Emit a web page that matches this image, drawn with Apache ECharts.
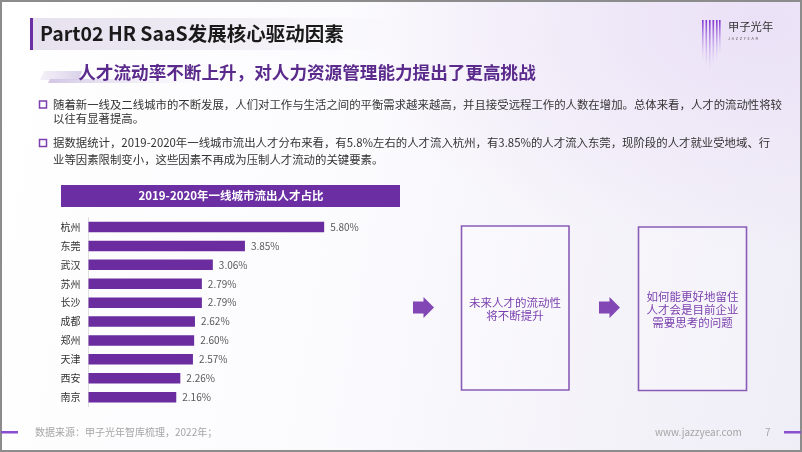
<!DOCTYPE html>
<html>
<head>
<meta charset="utf-8">
<script src="https://cdn.jsdelivr.net/npm/echarts@6/dist/echarts.min.js"></script>
<style>
html,body{margin:0;padding:0;}
#c{width:802px;height:452px;background:radial-gradient(ellipse at 95% 5%, #ebe1f7 0%, rgba(236,227,247,0) 38%), linear-gradient(100deg,#ffffff 0%,#fbfafd 45%,#efedf6 100%);}
</style>
</head>
<body>
<div id="c"></div>
<script>
const categories = ['杭州','东莞','武汉','苏州','长沙','成都','郑州','天津','西安','南京'];
const values = [5.80,3.85,3.06,2.79,2.79,2.62,2.60,2.57,2.26,2.16];
const titleText = 'Part02 HR SaaS发展核心驱动因素';
const subtitleText = '人才流动率不断上升，对人力资源管理能力提出了更高挑战';
const bullet1 = ['随着新一线及二线城市的不断发展，人们对工作与生活之间的平衡需求越来越高，并且接受远程工作的人数在增加。总体来看，人才的流动性将较','以往有显著提高。'];
const bullet2 = ['据数据统计，2019-2020年一线城市流出人才分布来看，有5.8%左右的人才流入杭州，有3.85%的人才流入东莞，现阶段的人才就业受地域、行','业等因素限制变小，这些因素不再成为压制人才流动的关键要素。'];
const chartTitle = '2019-2020年一线城市流出人才占比';
const box1Text = '未来人才的流动性\n将不断提升';
const box2Text = '如何能更好地留住\n人才会是目前企业\n需要思考的问题';
const sourceText = '数据来源：甲子光年智库梳理，2022年；';
const siteText = 'www.jazzyear.com';
const pageNo = '7';

const F = '"Noto Sans CJK SC","Noto Sans",sans-serif';
const PURPLE = '#6a2c9e';
const chart = echarts.init(document.getElementById('c'), null, {renderer:'canvas'});

function txt(text, x, y, size, color, opts) {
  opts = opts || {};
  return {type:'text', z: 10, style:{text:text, x:x, y:y, font:(opts.bold?'bold ':'')+size+'px '+(opts.family||F), fill:color,
    textAlign:opts.align||'left', textVerticalAlign:'middle', lineHeight:opts.lh}};
}
function arrow(x) {
  return {type:'polygon', shape:{points:[[x,301.5],[x+10.5,301.5],[x+10.5,297],[x+21,307.5],[x+10.5,318],[x+10.5,313.5],[x,313.5]]}, style:{fill:'#8247b4'}};
}
const logoLines = [[702,20,40],[705.5,20,46],[709,20,50],[712.5,20,45],[716,20,40],[719,20,34]];
const graphics = [
  {type:'rect', shape:{x:1,y:1,width:800,height:450}, style:{fill:'none', stroke:'#8c8c8c', lineWidth:2}},
  {type:'rect', shape:{x:30,y:18,width:360,height:32}, style:{fill:{type:'linear',x:0,y:0,x2:1,y2:0,colorStops:[{offset:0,color:'#e6e1ee'},{offset:0.6,color:'#f1eef5'},{offset:1,color:'rgba(245,243,248,0)'}]}}},
  {type:'rect', shape:{x:30,y:18,width:3,height:32}, style:{fill:'#6b2fa3'}},
  txt(titleText, 40, 34, 19.5, '#1a1a1a', {bold:true}),
  {type:'polygon', shape:{points:[[44,71],[82,71],[79,80],[40,80]]}, style:{fill:{type:'linear',x:0,y:0,x2:1,y2:0,colorStops:[{offset:0,color:'rgba(220,212,235,0.3)'},{offset:1,color:'#d9d0e8'}]}}},
  {type:'polygon', shape:{points:[[50,79],[200,79],[199,83],[48,83]]}, style:{fill:{type:'linear',x:0,y:0,x2:1,y2:0,colorStops:[{offset:0,color:'#d2c6e4'},{offset:1,color:'rgba(230,225,240,0)'}]}}},
  txt(subtitleText, 307, 72, 17.6, '#5a2a8c', {bold:true, align:'center'}),
  {type:'rect', shape:{x:39.5,y:101,width:7,height:7}, style:{fill:'none', stroke:'#7b3fae', lineWidth:1.5}},
  txt(bullet1[0], 53, 104.5, 11.4, '#333333'),
  txt(bullet1[1], 53, 118.5, 11.4, '#333333'),
  {type:'rect', shape:{x:39.5,y:139.5,width:7,height:7}, style:{fill:'none', stroke:'#7b3fae', lineWidth:1.5}},
  txt(bullet2[0], 53, 143, 11.4, '#333333'),
  txt(bullet2[1], 53, 160, 11.4, '#333333'),
  {type:'rect', shape:{x:61,y:185,width:339,height:22}, style:{fill:'#6b2fa3'}},
  txt(chartTitle, 231, 196, 11.5, '#ffffff', {bold:true, align:'center'}),
  arrow(413),
  arrow(599),
  {type:'rect', shape:{x:461.5,y:226,width:107.5,height:164}, style:{fill:'rgba(255,255,255,0.25)', stroke:'#8a5cb8', lineWidth:1.6}},
  {type:'rect', shape:{x:638.5,y:227,width:108,height:163.5}, style:{fill:'rgba(255,255,255,0.25)', stroke:'#8a5cb8', lineWidth:1.6}},
  txt(box1Text, 515, 309, 11.5, '#7a3fae', {align:'center', lh:13.5}),
  txt(box2Text, 692.5, 309.5, 11.5, '#7a3fae', {align:'center', lh:13}),
  {type:'rect', shape:{x:1,y:431,width:17,height:2.5}, style:{fill:'#8a4fd0'}},
  {type:'rect', shape:{x:784,y:431,width:17,height:2.5}, style:{fill:'#8a4fd0'}},
  txt(sourceText, 35, 432.5, 10, '#a6a6a6'),
  txt(siteText, 655, 432.5, 10, '#a6a6a6'),
  txt(pageNo, 765, 432.5, 10, '#a6a6a6'),
  txt('甲子光年', 728, 27, 11.3, '#333333'),
  txt('J  A  Z  Z  Y  E  A  R', 728, 39, 3.8, '#555555')
];
logoLines.forEach(function(l){
  graphics.push({type:'rect', shape:{x:l[0],y:l[1],width:1.6,height:l[2]}, style:{fill:{type:'linear',x:0,y:0,x2:0,y2:1,colorStops:[{offset:0,color:'#7d2fd0'},{offset:1,color:'rgba(200,170,240,0)'}]}}});
});

chart.setOption({
  animation:false,
  grid:{left:88.5, top:217.6, width:243.8, height:189, containLabel:false},
  xAxis:{type:'value', min:0, max:6, show:false},
  yAxis:{type:'category', data:categories, inverse:true,
    axisLine:{show:true, lineStyle:{color:'#e0e0e0', width:1}},
    axisTick:{show:false},
    axisLabel:{color:'#333333', fontSize:10, fontFamily:F, margin:8}},
  series:[{type:'bar', data:values, barWidth:10.5, itemStyle:{color:PURPLE},
    label:{show:true, position:'right', distance:6, color:'#595959', fontSize:10, fontFamily:F,
      formatter:function(p){return p.value.toFixed(2)+'%';}}}],
  graphic:{elements:graphics}
});
</script>
</body>
</html>
